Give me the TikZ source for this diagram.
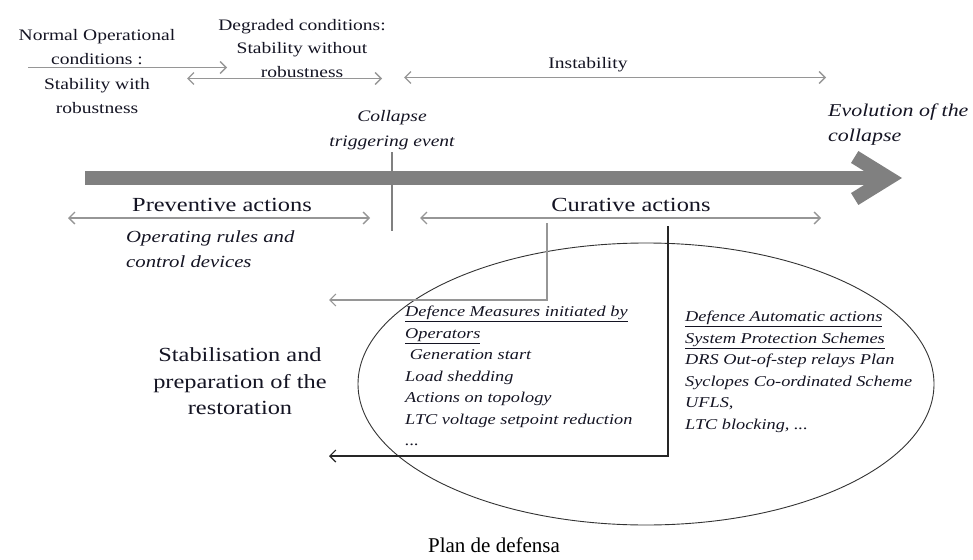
\documentclass[tikz,border=0pt]{standalone}
\usepackage{fontspec}
\setmainfont{Liberation Serif}[FakeStretch=1.22]
\newfontfamily\captionfont{Liberation Serif}
\usetikzlibrary{arrows.meta, positioning, calc, shapes.geometric}
\definecolor{arrowgray}{RGB}{128,128,128}
\definecolor{linegray}{RGB}{150,150,150}
\definecolor{inkdark}{RGB}{20,20,35}

\tikzset{
    phase/.style={align=center, inner sep=0pt, text=inkdark, font=\fontsize{16}{24}\selectfont},
    actions/.style={align=center, inner sep=0pt, text=inkdark, font=\fontsize{20}{26.5}\selectfont},
    remark/.style={align=left, inner sep=0pt, text=inkdark, font=\fontsize{17}{24.5}\selectfont\itshape},
    measures/.style={align=left, inner sep=0pt, text=inkdark, font=\fontsize{15}{21.5}\selectfont\itshape},
    span/.style={draw=linegray, line width=1.3pt, {Straight Barb[length=6pt,width=12pt]}-{Straight Barb[length=6pt,width=12pt]}},
    spanright/.style={draw=linegray, line width=1.3pt, -{Straight Barb[length=6pt,width=12pt]}},
    feedback/.style={line width=1.2pt, -{Straight Barb[length=6pt,width=12pt]}}
}

\begin{document}
\begin{tikzpicture}[x=1pt, y=-1pt]
    \useasboundingbox (0,0) rectangle (973,559);

    % operating states on top
    \node[phase, font=\fontsize{16}{24.3}\selectfont] (normalcond) at (97,71.5) {Normal Operational\\conditions :\\Stability with\\robustness};
    \node[phase, font=\fontsize{16}{23.5}\selectfont] (degradedcond) at (302,48.5) {Degraded conditions:\\Stability without\\robustness};
    \node[phase] (instab) at (588,65) {Instability};

    \coordinate (nA) at (28,67.5);  \coordinate (nB) at (227,67.5);
    \coordinate (dA) at (187,78.5); \coordinate (dB) at (382,78.5);
    \coordinate (iA) at (404,77.5); \coordinate (iB) at (826,77.5);
    \draw[spanright] (nA) -- (nB);
    \draw[span] (dA) -- (dB);
    \draw[span] (iA) -- (iB);

    \node[remark, align=center, font=\fontsize{16}{25}\selectfont\itshape] (collapse) at (392,130) {Collapse\\triggering event};
    \node[remark, anchor=west, font=\fontsize{18}{25}\selectfont\itshape] (evolution) at (828,124.5) {Evolution of the\\collapse};

    % time axis
    \coordinate (tA) at (85,178);
    \coordinate (tB) at (902,178);
    \draw[arrowgray, line width=14pt, -{Straight Barb[length=34pt,width=42pt]}] (tA) -- (tB);

    \coordinate (evtop) at (392,152);
    \coordinate (evbot) at (392,231);
    \draw[draw=arrowgray, line width=1.3pt] (evtop) -- (evbot);

    % preventive / curative
    \node[actions] (preventive) at (222,205) {Preventive actions};
    \node[actions] (curative) at (631,205) {Curative actions};
    \coordinate (pA) at (68,218);  \coordinate (pB) at (370,218);
    \coordinate (cA) at (420,218); \coordinate (cB) at (821,218);
    \draw[span] (pA) -- (pB);
    \draw[span] (cA) -- (cB);

    \node[remark, anchor=north west] (oprules) at (126,231) {Operating rules and\\control devices};

    % defence plan
    \node[draw=black!80, line width=0.9pt, ellipse, minimum width=576pt, minimum height=282pt, inner sep=0pt] (plan) at (646,384) {};

    \node[actions] (stabil) at (240,381.5) {Stabilisation and\\preparation of the\\restoration};

    \node[measures, anchor=north west] (operators) at (405,306) {\underline{Defence Measures initiated by}\\\underline{Operators}\\\ Generation start\\Load shedding\\Actions on topology\\LTC voltage setpoint reduction\\...};
    \node[measures, anchor=north west] (automatic) at (685,311) {\underline{Defence Automatic actions}\\\underline{System Protection Schemes}\\DRS Out-of-step relays Plan\\Syclopes Co-ordinated Scheme\\UFLS,\\LTC blocking, ...};

    \coordinate (opdrop) at (547,223);
    \coordinate (opend) at (329,300);
    \coordinate (autodrop) at (668,226);
    \coordinate (autoend) at (329,456);
    \draw[feedback, draw=linegray] (opdrop) |- (opend);
    \draw[feedback, draw=black!85] (autodrop) |- (autoend);

    \node[inner sep=0pt, font=\captionfont\fontsize{21}{24}\selectfont] (caption) at (494,545) {Plan de defensa};
\end{tikzpicture}
\end{document}
